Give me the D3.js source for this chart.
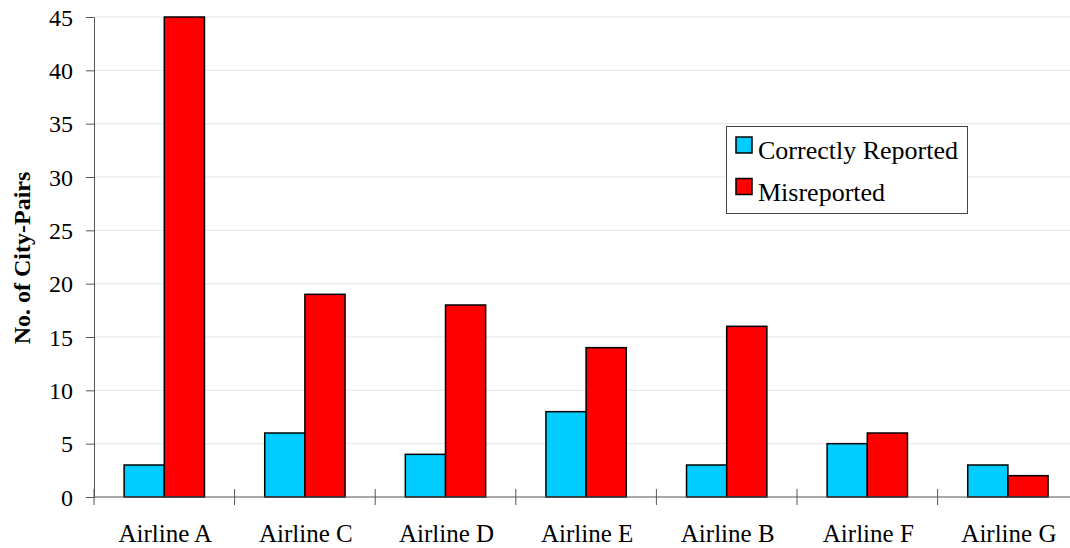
<!DOCTYPE html>
<html>
<head>
<meta charset="utf-8">
<script src="https://cdn.jsdelivr.net/npm/d3@7"></script>
<style>
  html, body { margin: 0; padding: 0; background: #fff; }
  svg { display: block; }
  text { font-family: "Liberation Serif", "Times New Roman", serif; fill: #000; }
</style>
</head>
<body>
<svg id="chart" width="1070" height="548"></svg>
<script>
// Airlines in display order
const categories = ["Airline A", "Airline C", "Airline D", "Airline E", "Airline B", "Airline F", "Airline G"];
const seriesNames = ["Correctly Reported", "Misreported"];
const correctlyReported = [3, 6, 4, 8, 3, 5, 3];
const misreported = [45, 19, 18, 14, 16, 6, 2];
const yTicks = [0, 5, 10, 15, 20, 25, 30, 35, 40, 45];
const seriesColors = ["#00CCFF", "#FF0000"];

const svg = d3.select("#chart");
const margin = { left: 94, top: 17, bottom: 51 };
const height = 548;
const plotBottom = height - margin.bottom;
const bandW = 140.6;

const x0 = d3.scaleBand()
  .domain(categories)
  .range([margin.left, margin.left + bandW * categories.length])
  .paddingInner(0).paddingOuter(0);

const x1 = d3.scaleBand()
  .domain(seriesNames)
  .range([0, x0.bandwidth()])
  .paddingInner(0).paddingOuter(0.75);

const y = d3.scaleLinear().domain([0, 45]).range([plotBottom, margin.top]);

// horizontal gridlines
svg.append("g")
  .selectAll("line")
  .data(yTicks.filter(d => d > 0))
  .join("line")
  .attr("x1", margin.left).attr("x2", 1070)
  .attr("y1", d => y(d)).attr("y2", d => y(d))
  .attr("stroke", "#e4e4e4").attr("stroke-width", 1);

// bars
const rows = categories.map((c, i) => ({ cat: c, vals: [correctlyReported[i], misreported[i]] }));
svg.append("g")
  .selectAll("g")
  .data(rows)
  .join("g")
  .attr("transform", d => `translate(${x0(d.cat)},0)`)
  .selectAll("rect")
  .data(d => d.vals.map((v, j) => ({ name: seriesNames[j], v, j })))
  .join("rect")
  .attr("x", d => x1(d.name))
  .attr("width", x1.bandwidth())
  .attr("y", d => y(d.v))
  .attr("height", d => plotBottom - y(d.v))
  .attr("fill", d => seriesColors[d.j])
  .attr("stroke", "#000").attr("stroke-width", 1.5);

// y axis
const yAxis = svg.append("g")
  .attr("transform", `translate(${margin.left},0)`)
  .call(d3.axisLeft(y).tickValues(yTicks).tickSize(8).tickSizeOuter(0).tickPadding(13));
yAxis.select(".domain").attr("stroke", "#555");
yAxis.selectAll(".tick line").attr("stroke", "#555");
yAxis.selectAll("text")
  .style("font-size", "24px")
  .style("font-family", "Liberation Serif, serif")
  .attr("dy", "0.34em");

// x axis line and category separators
svg.append("line")
  .attr("x1", margin.left).attr("x2", 1070)
  .attr("y1", plotBottom).attr("y2", plotBottom)
  .attr("stroke", "#555");
svg.append("g")
  .selectAll("line")
  .data(categories)
  .join("line")
  .attr("x1", d => x0(d)).attr("x2", d => x0(d))
  .attr("y1", plotBottom - 8).attr("y2", plotBottom + 8)
  .attr("stroke", "#555");

// category labels
svg.append("g")
  .selectAll("text")
  .data(categories)
  .join("text")
  .attr("x", d => x0(d) + x0.bandwidth() / 2 + 1)
  .attr("y", 542)
  .attr("text-anchor", "middle")
  .style("font-size", "25px")
  .text(d => d);

// y axis title
svg.append("text")
  .attr("transform", `translate(30,258) rotate(-90)`)
  .attr("text-anchor", "middle")
  .style("font-size", "24px")
  .style("font-weight", "bold")
  .text("No. of City-Pairs");

// legend
const legend = svg.append("g");
legend.append("rect")
  .attr("x", 726.5).attr("y", 126.5).attr("width", 241).attr("height", 87)
  .attr("fill", "#fff").attr("stroke", "#444").attr("stroke-width", 1);
seriesNames.forEach((name, i) => {
  const yy = 137 + i * 41.5;
  legend.append("rect")
    .attr("x", 736).attr("y", yy).attr("width", 16).attr("height", 16)
    .attr("fill", seriesColors[i]).attr("stroke", "#000").attr("stroke-width", 1.5);
  legend.append("text")
    .attr("x", 758).attr("y", yy + 22)
    .style("font-size", "26px")
    .text(name);
});
</script>
</body>
</html>
